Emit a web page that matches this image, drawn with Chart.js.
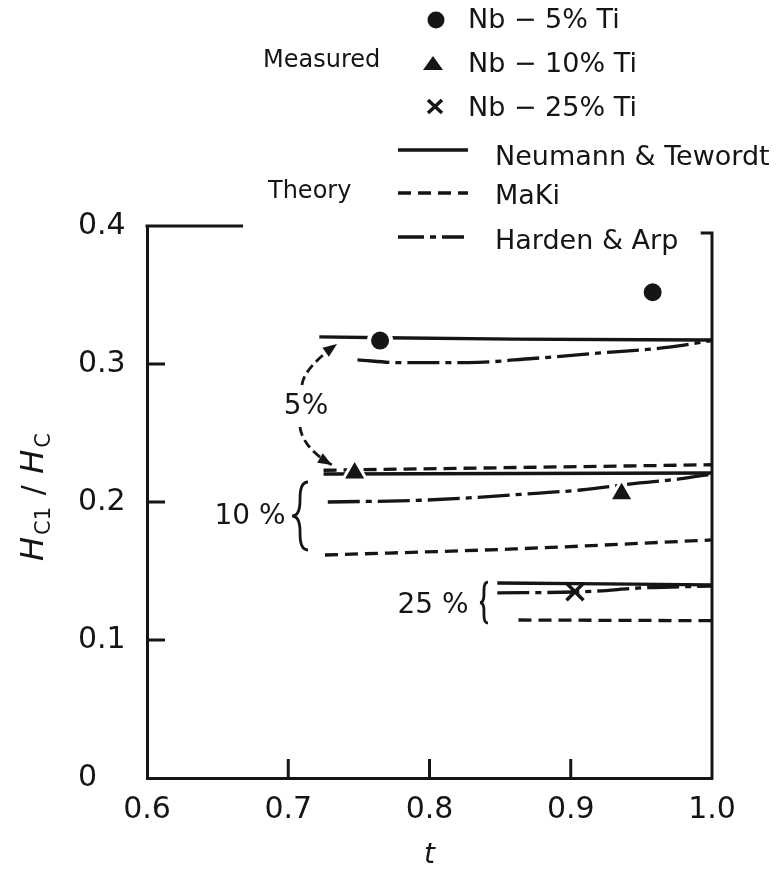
<!DOCTYPE html>
<html>
<head>
<meta charset="utf-8">
<script src="https://cdn.jsdelivr.net/npm/chart.js@4.4.1/dist/chart.umd.min.js"></script>
<style>
  html, body { margin: 0; padding: 0; background: #fff; }
  #chart { display: block; background: #fff; }
</style>
</head>
<body>
<canvas id="chart" width="779" height="873"></canvas>
<script>
const INK = "#151515";
const FONT = "'DejaVu Sans', 'Liberation Sans', sans-serif";

const xTickValues = [0.6, 0.7, 0.8, 0.9, 1.0];
const yTickValues = [0, 0.1, 0.2, 0.3, 0.4];

// measured points (t, Hc1/Hc)
const nb5T = [0.765, 0.958];
const nb5H = [0.317, 0.352];
const nb10T = [0.747, 0.936];
const nb10H = [0.221, 0.206];
const nb25T = [0.903];
const nb25H = [0.135];

// theory curves, 5 % Ti
const nt5T = [0.722, 0.86, 1.0];
const nt5H = [0.3196, 0.318, 0.3174];
const ha5T = [0.749, 0.779, 0.827, 0.873, 0.921, 0.968, 1.0];
const ha5H = [0.303, 0.301, 0.301, 0.304, 0.308, 0.312, 0.317];
const maki5T = [0.725, 1.0];
const maki5H = [0.223, 0.227];

// theory curves, 10 % Ti
const nt10T = [0.725, 1.0];
const nt10H = [0.2203, 0.221];
const ha10T = [0.728, 0.798, 0.878, 0.907, 0.949, 0.977, 1.0];
const ha10H = [0.2, 0.2014, 0.2065, 0.2087, 0.2138, 0.2167, 0.2203];
const maki10T = [0.726, 0.86, 1.0];
const maki10H = [0.1616, 0.166, 0.1725];

// theory curves, 25 % Ti
const nt25T = [0.848, 1.0];
const nt25H = [0.1413, 0.1399];
const ha25T = [0.848, 0.903, 0.919, 0.949, 0.972, 1.0];
const ha25H = [0.1341, 0.1348, 0.1355, 0.1377, 0.1384, 0.1391];
const maki25T = [0.863, 1.0];
const maki25H = [0.1145, 0.114];

// group annotations (data units)
const groupLabels = ["5%", "10 %", "25 %"];
const groupLabelT = [0.7126, 0.673, 0.8025];
const groupLabelH = [0.2688, 0.1891, 0.1246];
const braceTipT = [0.7027, 0.8357];
const braceEndT = [0.714, 0.8414];
const braceTopH = [0.2145, 0.142];
const braceBottomH = [0.1652, 0.1123];
const arrowStart = [[0.7097, 0.2848], [0.7083, 0.2543]];
const arrowBend = [[0.7111, 0.2971], [0.7104, 0.2391]];
const arrowEnd = [[0.7345, 0.3145], [0.731, 0.2268]];

const SOLID = [];
const DASHED = [13, 7];
const DASH_DOT = [32, 6, 6, 6];
const LINE_W = 3.3;

function zip(ts, hs) {
  return ts.map((t, i) => ({ x: t, y: hs[i] }));
}

function theory(label, ts, hs, dash) {
  return {
    label,
    data: zip(ts, hs),
    showLine: true,
    borderColor: INK,
    borderWidth: LINE_W,
    borderDash: dash,
    borderCapStyle: "butt",
    cubicInterpolationMode: "monotone",
    pointRadius: 0,
    fill: false
  };
}

const datasets = [
  {
    label: "Nb-5% Ti",
    data: zip(nb5T, nb5H),
    pointStyle: "circle",
    pointRadius: 11,
    pointBackgroundColor: INK,
    pointBorderColor: "#fff",
    pointBorderWidth: 4
  },
  {
    label: "Nb-10% Ti",
    data: zip(nb10T, nb10H),
    pointStyle: "triangle",
    pointRadius: 14,
    pointBackgroundColor: INK,
    pointBorderColor: "#fff",
    pointBorderWidth: 3
  },
  {
    label: "Nb-25% Ti",
    data: zip(nb25T, nb25H),
    pointStyle: "crossRot",
    pointRadius: 12,
    pointBorderColor: INK,
    pointBorderWidth: 3.5
  },
  theory("Neumann & Tewordt 5%", nt5T, nt5H, SOLID),
  theory("Harden & Arp 5%", ha5T, ha5H, DASH_DOT),
  theory("Maki 5%", maki5T, maki5H, DASHED),
  theory("Neumann & Tewordt 10%", nt10T, nt10H, SOLID),
  theory("Harden & Arp 10%", ha10T, ha10H, DASH_DOT),
  theory("Maki 10%", maki10T, maki10H, DASHED),
  theory("Neumann & Tewordt 25%", nt25T, nt25H, SOLID),
  theory("Harden & Arp 25%", ha25T, ha25H, DASH_DOT),
  theory("Maki 25%", maki25T, maki25H, DASHED)
];

function drawBrace(ctx, xTip, xEnd, yTop, yBot) {
  const xm = (xTip + xEnd) / 2;
  const ym = (yTop + yBot) / 2;
  const r = Math.min(xEnd - xTip, (yBot - yTop) / 4);
  ctx.beginPath();
  ctx.moveTo(xEnd, yTop);
  ctx.quadraticCurveTo(xm, yTop, xm, yTop + r);
  ctx.lineTo(xm, ym - r);
  ctx.quadraticCurveTo(xm, ym, xTip, ym);
  ctx.quadraticCurveTo(xm, ym, xm, ym + r);
  ctx.lineTo(xm, yBot - r);
  ctx.quadraticCurveTo(xm, yBot, xEnd, yBot);
  ctx.stroke();
}

function drawArrow(ctx, p0, p1, p2) {
  ctx.save();
  ctx.setLineDash([9, 5]);
  ctx.beginPath();
  ctx.moveTo(p0[0], p0[1]);
  ctx.quadraticCurveTo(p1[0], p1[1], p2[0], p2[1]);
  ctx.stroke();
  ctx.restore();
  const ang = Math.atan2(p2[1] - p1[1], p2[0] - p1[0]);
  const len = 14;
  const half = 5.5;
  ctx.beginPath();
  ctx.moveTo(p2[0], p2[1]);
  ctx.lineTo(p2[0] - len * Math.cos(ang) + half * Math.sin(ang), p2[1] - len * Math.sin(ang) - half * Math.cos(ang));
  ctx.lineTo(p2[0] - len * Math.cos(ang) - half * Math.sin(ang), p2[1] - len * Math.sin(ang) + half * Math.cos(ang));
  ctx.closePath();
  ctx.fill();
}

function drawLegend(ctx) {
  ctx.save();
  ctx.fillStyle = INK;
  ctx.strokeStyle = INK;
  ctx.textAlign = "left";
  ctx.textBaseline = "middle";

  ctx.font = `24px ${FONT}`;
  ctx.fillText("Measured", 263, 61);
  ctx.fillText("Theory", 268, 192);

  ctx.font = `27px ${FONT}`;
  ctx.fillText("Nb \u2212 5% Ti", 468, 21);
  ctx.fillText("Nb \u2212 10% Ti", 468, 65);
  ctx.fillText("Nb \u2212 25% Ti", 468, 109);
  ctx.fillText("Neumann & Tewordt", 495, 158);
  ctx.fillText("MaKi", 495, 197);
  ctx.fillText("Harden & Arp", 495, 242);

  // marker samples
  ctx.beginPath();
  ctx.arc(436, 20, 8.5, 0, Math.PI * 2);
  ctx.fill();
  ctx.beginPath();
  ctx.moveTo(433, 56);
  ctx.lineTo(443, 70);
  ctx.lineTo(423, 70);
  ctx.closePath();
  ctx.fill();
  ctx.lineWidth = 3.5;
  ctx.beginPath();
  ctx.moveTo(428, 100);
  ctx.lineTo(442, 113);
  ctx.moveTo(442, 100);
  ctx.lineTo(428, 113);
  ctx.stroke();

  // line samples
  ctx.lineWidth = LINE_W;
  const samples = [[SOLID, 150, 468], [DASHED, 193, 468], [[26, 6, 6, 6], 237, 464]];
  samples.forEach(([dash, yy, x1]) => {
    ctx.setLineDash(dash);
    ctx.beginPath();
    ctx.moveTo(398, yy);
    ctx.lineTo(x1, yy);
    ctx.stroke();
  });
  ctx.restore();
}

function drawYTitle(ctx, cx, cy) {
  const parts = [
    { text: "H", font: `italic 32px ${FONT}`, shift: 0 },
    { text: "C1", font: `21px ${FONT}`, shift: 7 },
    { text: " / ", font: `30px ${FONT}`, shift: 0 },
    { text: "H", font: `italic 32px ${FONT}`, shift: 0 },
    { text: "C", font: `21px ${FONT}`, shift: 7 }
  ];
  ctx.save();
  ctx.translate(cx, cy);
  ctx.rotate(-Math.PI / 2);
  ctx.fillStyle = INK;
  ctx.textBaseline = "alphabetic";
  ctx.textAlign = "left";
  let total = 0;
  parts.forEach((p) => {
    ctx.font = p.font;
    p.w = ctx.measureText(p.text).width + 2;
    total += p.w;
  });
  let xx = -total / 2;
  parts.forEach((p) => {
    ctx.font = p.font;
    ctx.fillText(p.text, xx, 12 + p.shift);
    xx += p.w;
  });
  ctx.restore();
}

const decorPlugin = {
  id: "decor",
  afterDraw(chart) {
    const { ctx, chartArea: area } = chart;
    const xs = chart.scales.x;
    const ys = chart.scales.y;
    const px = (t) => xs.getPixelForValue(t);
    const py = (h) => ys.getPixelForValue(h);

    ctx.save();
    ctx.strokeStyle = INK;
    ctx.fillStyle = INK;
    ctx.lineWidth = 3;

    // partial top border, bracket and right border
    ctx.beginPath();
    ctx.moveTo(area.left - 1.5, area.top);
    ctx.lineTo(px(0.668), area.top);
    ctx.moveTo(px(0.992), py(0.395));
    ctx.lineTo(area.right, py(0.395));
    ctx.lineTo(area.right, area.bottom + 1.5);
    ctx.stroke();

    // inward tick marks
    ctx.beginPath();
    xTickValues.slice(1, -1).forEach((t) => {
      ctx.moveTo(px(t), area.bottom);
      ctx.lineTo(px(t), area.bottom - 19);
    });
    yTickValues.slice(1, -1).forEach((h) => {
      ctx.moveTo(area.left, py(h));
      ctx.lineTo(area.left + 18, py(h));
    });
    ctx.stroke();

    // group labels, braces, arrows
    ctx.font = `28px ${FONT}`;
    ctx.textAlign = "center";
    ctx.textBaseline = "middle";
    groupLabels.forEach((txt, i) => {
      ctx.fillText(txt, px(groupLabelT[i]), py(groupLabelH[i]));
    });
    ctx.lineWidth = 2.8;
    braceTipT.forEach((t, i) => {
      drawBrace(ctx, px(t), px(braceEndT[i]), py(braceTopH[i]), py(braceBottomH[i]));
    });
    arrowStart.forEach((s, i) => {
      const b = arrowBend[i];
      const e = arrowEnd[i];
      drawArrow(ctx, [px(s[0]), py(s[1])], [px(b[0]), py(b[1])], [px(e[0]), py(e[1])]);
    });
    ctx.restore();

    drawLegend(ctx);
    drawYTitle(ctx, 31, (area.top + area.bottom) / 2 - 6);
  }
};

const axisBorder = { display: true, color: INK, width: 3 };

new Chart(document.getElementById("chart"), {
  type: "scatter",
  data: { datasets },
  options: {
    responsive: false,
    animation: false,
    events: [],
    layout: { padding: { left: 78, top: 226, right: 67, bottom: 0 } },
    plugins: {
      legend: { display: false },
      tooltip: { enabled: false }
    },
    scales: {
      x: {
        type: "linear",
        min: 0.6,
        max: 1.0,
        afterBuildTicks: (scale) => {
          scale.ticks = xTickValues.map((value) => ({ value }));
        },
        afterFit: (scale) => {
          scale.height = 95;
        },
        grid: { display: false, drawTicks: false },
        border: axisBorder,
        ticks: {
          color: INK,
          font: { family: FONT, size: 30 },
          padding: 14,
          maxRotation: 0,
          autoSkip: false,
          callback: (v) => Number(v).toFixed(1)
        },
        title: {
          display: true,
          text: "t",
          color: INK,
          font: { family: FONT, size: 28, style: "italic" },
          padding: 0
        }
      },
      y: {
        type: "linear",
        min: 0,
        max: 0.4,
        afterBuildTicks: (scale) => {
          scale.ticks = yTickValues.map((value) => ({ value }));
        },
        afterFit: (scale) => {
          scale.width = 69;
        },
        grid: { display: false, drawTicks: false },
        border: axisBorder,
        ticks: {
          color: INK,
          font: { family: FONT, size: 30 },
          crossAlign: "far",
          autoSkip: false,
          callback: (v) => (v === 0 ? "0" : Number(v).toFixed(1))
        }
      }
    }
  },
  plugins: [decorPlugin]
});
</script>
</body>
</html>
